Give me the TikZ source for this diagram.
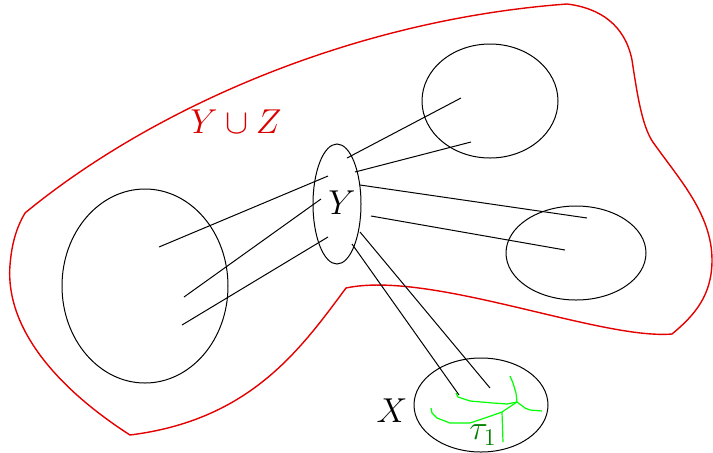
\documentclass[tikz,border=0pt]{standalone}
\usepackage{amsmath}
\usepackage{amssymb}
\usepackage{tikz}
\usepackage{xcolor}
\usetikzlibrary{shapes.geometric}

\tikzset{
    set/.style={draw, ellipse, inner sep=0pt, line width=0.5pt},
    region/.style={draw=red!90!black, line width=0.7pt},
    tree/.style={draw=green, line width=0.6pt},
    lbl/.style={font=\LARGE, inner sep=0pt}
}

\begin{document}
\begin{tikzpicture}[x=0.5pt, y=-0.5pt, line width=0.5pt]
    \useasboundingbox (0,0) rectangle (713,452);

    % The region Y u Z
    \draw[region] (25,213) .. controls (150,110) and (350,20) .. (567,4)
        .. controls (600,8) and (625,25) .. (632,60)
        .. controls (638,100) and (643,130) .. (655,145)
        .. controls (680,180) and (712,215) .. (712,260)
        .. controls (712,295) and (695,315) .. (672,334)
        .. controls (600,340) and (430,270) .. (346,288)
        .. controls (300,350) and (250,420) .. (130,435)
        .. controls (60,390) and (5,330) .. (10,265)
        .. controls (12,240) and (18,225) .. (25,213) -- cycle;

    % Sets
    \node[set, minimum width=83pt, minimum height=97pt] (L) at (145,286) {};
    \node[set, minimum width=24pt, minimum height=60pt] (Y) at (337,204) {};
    \node[set, minimum width=68pt, minimum height=57pt] (NE) at (490,101) {};
    \node[set, minimum width=70pt, minimum height=47pt] (E) at (576,253) {};
    \node[set, minimum width=67pt, minimum height=47pt] (X) at (481,405) {};

    % Labels
    \node[lbl] (Ylab) at (342,203) {$Y$};
    \node[lbl] (Xlab) at (392,411) {$X$};
    \node[lbl, red!85!black] (YZlab) at (236,122) {$Y\cup Z$};
    \node[lbl, green!50!black] (tau) at (483,435) {$\tau_1$};

    % End points of the links
    \coordinate (y1) at (347,158); \coordinate (n1) at (461,98);
    \coordinate (y2) at (355,172); \coordinate (n2) at (471,142);
    \coordinate (y3) at (360,185); \coordinate (e1) at (587,218);
    \coordinate (y4) at (371,216); \coordinate (e2) at (565,250);
    \coordinate (l1) at (159,247); \coordinate (y5) at (328,176);
    \coordinate (l2) at (184,297); \coordinate (y6) at (321,199);
    \coordinate (l3) at (182,325); \coordinate (y7) at (328,237);
    \coordinate (y8) at (352,244); \coordinate (x1) at (459,395);
    \coordinate (y9) at (360,232); \coordinate (x2) at (490,388);

    % Links
    \foreach \a/\b in {y1/n1, y2/n2, y3/e1, y4/e2, l1/y5, l2/y6, l3/y7, y8/x1, y9/x2}
        \draw (\a) -- (\b);

    % Tree tau_1 inside X
    \coordinate (j) at (517,402);
    \coordinate (k) at (502,412);
    \draw[tree] (456,393) -- (458,397) -- (470,401) -- (493,403) -- (507,404) -- (j)
        -- (516,393) -- (513,383) -- (510,376);
    \draw[tree] (j) -- (525,408) -- (530,410) -- (542,411);
    \draw[tree] (431,408) -- (432,413) -- (437,418) -- (450,423) -- (470,423)
        -- (485,418) -- (k) -- (j);
    \draw[tree] (k) -- (503,442);

\end{tikzpicture}
\end{document}
